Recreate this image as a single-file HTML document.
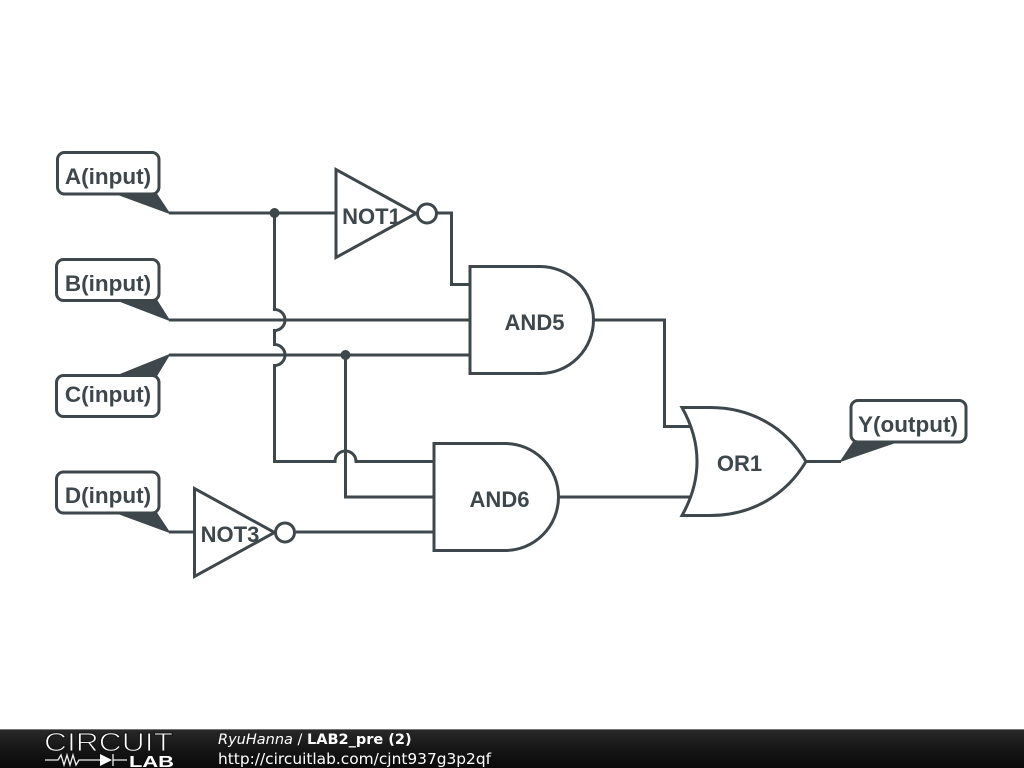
<!DOCTYPE html>
<html><head><meta charset="utf-8"><style>
html,body{margin:0;padding:0;background:#fff}
svg{display:block}
</style></head><body>
<svg width="1024" height="768" viewBox="0 0 1024 768" xmlns="http://www.w3.org/2000/svg">
<defs><linearGradient id="f" x1="0" y1="0" x2="0" y2="1"><stop offset="0" stop-color="#2a2a2a"/><stop offset="0.5" stop-color="#161616"/><stop offset="1" stop-color="#0a0a0a"/></linearGradient></defs>
<rect width="1024" height="768" fill="#fff"/>
<g fill="none" stroke="#3e474c" stroke-width="3" stroke-linejoin="miter">
<!-- wires -->
<path d="M169 213H336"/>
<path d="M274.500 213V309.500a10.500 10.500 0 0 1 0 21V344.500a10.500 10.500 0 0 1 0 21V461.500H335a10.500 10.500 0 0 1 21 0H434"/>
<path d="M169 320H470"/>
<path d="M169 355H470"/>
<path d="M345.500 355V497H434"/>
<path d="M169 532H194"/>
<path d="M296 532H434"/>
<path d="M437 213H451.500V284.500H470"/>
<path d="M594 320H664.500V426.500H694"/>
<path d="M558 497H694"/>
<path d="M806 461.500H841"/>
<!-- gates -->
<path d="M336 169.500V257.500L416 213.500Z" fill="#fff"/>
<circle cx="427" cy="213.500" r="9.500" fill="#fff"/>
<path d="M194.500 488.500V576.500L274.500 532.500Z" fill="#fff"/>
<circle cx="285" cy="532.500" r="9.500" fill="#fff"/>
<path d="M470 266.500H540a53.500 53.500 0 0 1 0 107H470Z" fill="#fff"/>
<path d="M434 443.500H505a53.500 53.500 0 0 1 0 107H434Z" fill="#fff"/>
<path d="M682 407.500H710C752 407.500 786 428 806 461.500C786 495 752 515.500 710 515.500H682C702 480 702 443 682 407.500Z" fill="#fff"/>
<!-- terminal labels -->
<path d="M112 192L169 213L155 192Z" fill="#3e474c" stroke-width="1.500"/>
<path d="M112 298L169 320L155 298Z" fill="#3e474c" stroke-width="1.500"/>
<path d="M112 378L169 355L155 378Z" fill="#3e474c" stroke-width="1.500"/>
<path d="M112 511L169 532L155 511Z" fill="#3e474c" stroke-width="1.500"/>
<path d="M855 440L841 461L902 440Z" fill="#3e474c" stroke-width="1.500"/>
<rect x="57.500" y="152.500" width="101.500" height="41.500" rx="7" fill="#fff"/>
<rect x="56.500" y="259.500" width="102.500" height="41" rx="7" fill="#fff"/>
<rect x="56.500" y="375.500" width="102.500" height="41" rx="7" fill="#fff"/>
<rect x="56.500" y="472" width="102.500" height="41" rx="7" fill="#fff"/>
<rect x="851" y="400.500" width="115" height="41.500" rx="7" fill="#fff"/>
</g>
<circle cx="274.500" cy="213" r="5" fill="#3e474c"/>
<circle cx="345.500" cy="355" r="5" fill="#3e474c"/>
<g font-family="'Liberation Sans',sans-serif" font-weight="700" font-size="22.500" fill="#3e474c" text-anchor="middle">
<text x="108" y="184">A(input)</text>
<text x="108" y="291">B(input)</text>
<text x="108" y="402">C(input)</text>
<text x="108" y="503">D(input)</text>
<text x="908" y="432">Y(output)</text>
</g>
<g font-family="'Liberation Sans',sans-serif" font-weight="700" font-size="22" fill="#3e474c" text-anchor="middle">
<text x="371.500" y="224">NOT1</text>
<text x="230" y="542">NOT3</text>
<text x="534.500" y="330">AND5</text>
<text x="499.500" y="507">AND6</text>
<text x="739.500" y="471">OR1</text>
</g>
<!-- footer -->
<rect x="0" y="729" width="1024" height="39" fill="url(#f)"/>
<rect x="0" y="729" width="1024" height="1" fill="#777"/>
<g fill="none" stroke="#f0f0f0" stroke-width="1.300">
<path d="M45 760H58L61 755L64 765L67 755L70 765L73 755L76 765L79 760H100M113 760H127"/>
<path d="M113 754V766"/>
</g>
<path d="M100 754L112 760L100 766Z" fill="#fff"/>
<text x="44" y="751" font-family="'Liberation Sans',sans-serif" font-size="26" fill="#fff" textLength="129" lengthAdjust="spacingAndGlyphs" stroke="#141414" stroke-width="1">CIRCUIT</text>
<text x="129" y="767" font-family="'Liberation Sans',sans-serif" font-weight="700" font-size="16" fill="#fff" textLength="45" lengthAdjust="spacingAndGlyphs">LAB</text>
<g font-family="'DejaVu Sans',sans-serif" fill="#fff">
<text x="218" y="744" font-size="14.500"><tspan font-style="italic">RyuHanna</tspan> / <tspan font-weight="700">LAB2_pre (2)</tspan></text>
<text x="218" y="764" font-size="15.400">http://circuitlab.com/cjnt937g3p2qf</text>
</g>
</svg>
</body></html>
